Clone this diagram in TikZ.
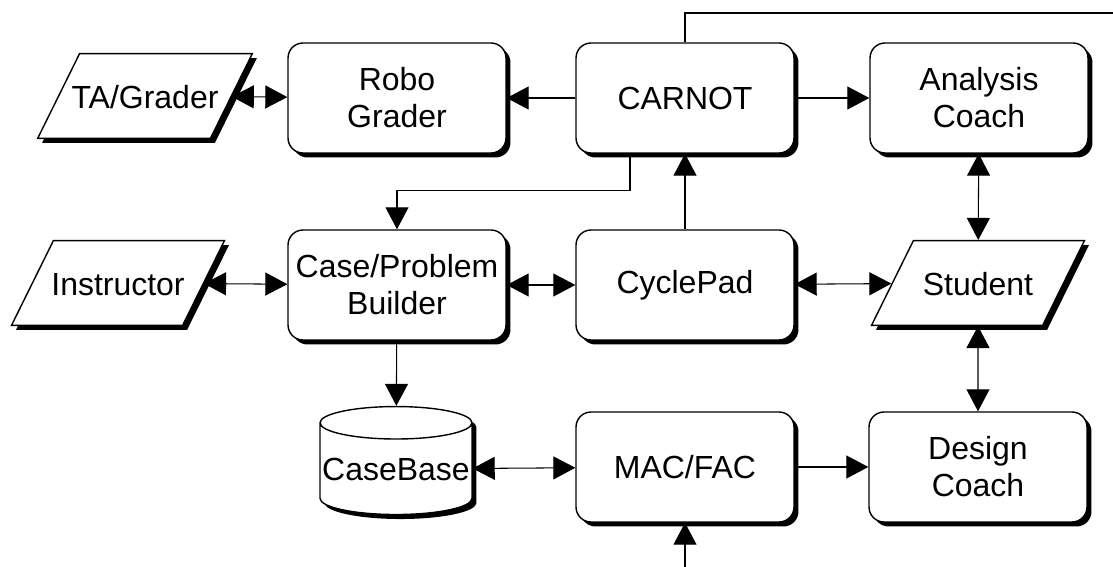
\documentclass[tikz,border=0pt]{standalone}
\usepackage{fontspec}
\setmainfont{Liberation Sans}
\usetikzlibrary{shapes.geometric, shadows, arrows.meta}

\begin{document}
\begin{tikzpicture}[x = 0.02cm, y = -0.02cm,
  >= {Triangle[length = 0.44cm, width = 0.46cm]},
  every node/.style = {font = \fontsize{18.2}{21}\selectfont, line width = 0.8pt},
  shadowed/.style = {drop shadow = {shadow xshift = 0.09cm, shadow yshift = -0.09cm, opacity = 1, fill = black}},
  box/.style = {draw, fill = white, rounded corners = 0.3cm, minimum width = 4.36cm, minimum height = 2.2cm, align = center, shadowed},
  actor/.style = {draw, fill = white, trapezium, trapezium left angle = 63.7, trapezium right angle = 116.3, trapezium stretches body, minimum width = 4.26cm, text height = 14pt, text depth = 0pt, inner ysep = 17.1pt, inner xsep = -0.16cm, shadowed},
  store/.style = {draw, fill = white, cylinder, shape border rotate = 90, aspect = 0.22, minimum width = 3.04cm, minimum height = 2.16cm, inner sep = 0pt, shadowed},
  link/.style = {line width = 0.6pt}]
\useasboundingbox (0, 0) rectangle (1113, 567);

\node[actor] (tagrader) at (145, 96) {TA/Grader};
\node[box] (robo) at (397, 98) {Robo\\Grader};
\node[box] (carnot) at (685, 98) {CARNOT};
\node[box] (analysis) at (979, 98) {Analysis\\Coach};

\node[actor] (instructor) at (118, 283) {Instructor};
\node[box] (builder) at (397, 285) {Case/Problem\\Builder};
\node[box] (cyclepad) at (685, 285) {CyclePad};
\node[actor] (student) at (978, 283) {Student};

\node[store] (casebase) at (396, 469) {CaseBase};
\node[box] (macfac) at (685, 467) {MAC/FAC};
\node[box] (design) at (978, 467) {Design\\Coach};

\coordinate (outside) at (1113, 13);
\coordinate (below) at (685, 567);

\draw[link, <->] (tagrader) -- (robo);
\draw[link, ->] (carnot) -- (robo);
\draw[link, ->] (carnot) -- (analysis);
\draw[link] (carnot.north) |- (outside);
\draw[link, ->] ([xshift = -1.1cm] carnot.south) -- ++(0, 37) -| (builder.north);
\draw[link, ->] (cyclepad) -- (carnot);
\draw[link, <->] (analysis) -- (student);

\draw[link, <->] (instructor) -- (builder);
\draw[link, <->] (builder) -- (cyclepad);
\draw[link, <->] (cyclepad) -- (student);
\draw[link, ->] (builder) -- (casebase);
\draw[link, <->] (student) -- (design);

\draw[link, <->] (casebase) -- (macfac);
\draw[link, ->] (macfac) -- (design);
\draw[link, ->] (below) -- (macfac);
\end{tikzpicture}
\end{document}
